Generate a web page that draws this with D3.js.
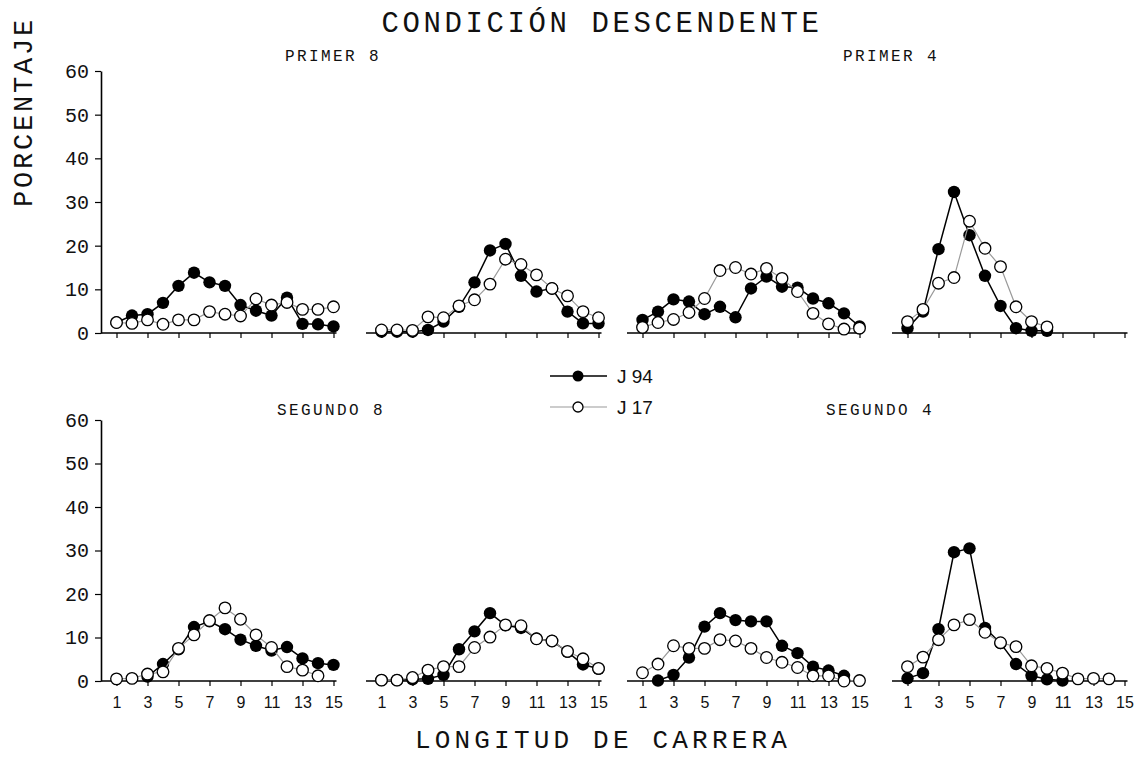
<!DOCTYPE html>
<html>
<head>
<meta charset="utf-8">
<script src="https://cdn.jsdelivr.net/npm/d3@7"></script>
<style>
  body { margin: 0; background: #fff; }
  svg { display: block; }
</style>
</head>
<body>
<svg id="chart" width="1138" height="773"></svg>
<script>
// ---------- data ----------
const xValues = [1,2,3,4,5,6,7,8,9,10,11,12,13,14,15];
const xTickValues = [1,3,5,7,9,11,13,15];
const yTickValues = [0,10,20,30,40,50,60];
const seriesNames = ["J 94", "J 17"];
const panelTitles = ["PRIMER 8", "", "", "PRIMER 4", "SEGUNDO 8", "", "", "SEGUNDO 4"];

// J 94 (filled) per panel
const j94_p1 = [2.4,4.0,4.3,6.9,10.8,13.8,11.6,10.8,6.4,5.1,4.0,8.1,2.1,2.0,1.5];
const j94_p2 = [0.3,0.3,0.3,0.7,2.6,6.0,11.6,18.9,20.4,13.1,9.5,10.2,4.9,2.2,2.2];
const j94_p3 = [3.0,4.9,7.7,7.2,4.3,6.0,3.6,10.2,12.9,10.6,10.4,7.9,6.8,4.5,1.5];
const j94_p4 = [1.1,4.9,19.2,32.3,22.4,13.1,6.2,1.1,0.5,0.5,null,null,null,null,null];
const j94_p5 = [null,null,1.0,3.9,7.3,12.4,13.7,11.9,9.5,8.1,7.0,7.8,5.2,4.1,3.7];
const j94_p6 = [0.2,0.2,0.4,0.5,1.4,7.3,11.4,15.6,12.8,12.2,9.7,9.2,6.7,3.8,2.8];
const j94_p7 = [null,0.1,1.4,5.4,12.5,15.6,14.0,13.7,13.7,8.1,6.4,3.3,2.4,1.2,null];
const j94_p8 = [0.6,1.8,11.9,29.6,30.5,12.2,8.7,3.9,1.2,0.4,0.1,null,null,null,null];

// J 17 (open) per panel
const j17_p1 = [2.4,2.2,3.0,2.0,3.0,3.0,4.9,4.3,3.9,7.8,6.4,7.0,5.4,5.4,6.0];
const j17_p2 = [0.7,0.7,0.6,3.7,3.5,6.2,7.6,11.2,16.9,15.7,13.3,10.2,8.5,4.9,3.5];
const j17_p3 = [1.3,2.4,3.1,4.7,7.9,14.3,15.0,13.5,14.8,12.5,9.5,4.5,2.1,0.9,1.1];
const j17_p4 = [2.6,5.4,11.4,12.7,25.6,19.4,15.2,6.0,2.6,1.4,null,null,null,null,null];
const j17_p5 = [0.5,0.6,1.6,2.1,7.5,10.6,13.9,16.8,14.2,10.6,7.7,3.3,2.5,1.2,null];
const j17_p6 = [0.2,0.2,0.8,2.5,3.3,3.3,7.7,10.1,12.9,12.7,9.7,9.2,6.8,5.1,2.9];
const j17_p7 = [1.9,3.9,8.1,7.5,7.5,9.5,9.2,7.5,5.4,4.3,3.1,1.2,1.2,0.0,0.1];
const j17_p8 = [3.3,5.5,9.5,12.9,14.1,11.2,8.8,7.9,3.5,2.9,1.8,0.5,0.6,0.5,null];

const j94 = [j94_p1,j94_p2,j94_p3,j94_p4,j94_p5,j94_p6,j94_p7,j94_p8];
const j17 = [j17_p1,j17_p2,j17_p3,j17_p4,j17_p5,j17_p6,j17_p7,j17_p8];

// ---------- layout ----------
const svg = d3.select("#chart");
const mono = "'Liberation Mono', 'DejaVu Sans Mono', monospace";
const sans = "'Liberation Sans', Arial, sans-serif";

const panelX = [101, 366, 627, 892];
const rowY = [{bottom: 333, top: 71}, {bottom: 681, top: 420}];
const plotW = 232.5;

const x = d3.scaleLinear().domain([0, 15]).range([0, plotW]);

const titleCenters = [333, null, null, 891, 331, null, null, 880];

for (let p = 0; p < 8; p++) {
  const row = Math.floor(p / 4), col = p % 4;
  const y = d3.scaleLinear().domain([0, 60]).range([rowY[row].bottom, rowY[row].top]);
  const g = svg.append("g").attr("transform", `translate(${panelX[col]},0)`);

  // x axis
  const xAxis = d3.axisBottom(x).tickValues(xTickValues).tickSize(5).tickSizeOuter(0).tickPadding(11)
    .tickFormat(row === 1 ? d3.format("d") : () => "");
  const xg = g.append("g").attr("transform", `translate(0,${rowY[row].bottom})`).call(xAxis);
  xg.select(".domain").attr("d", `M0,0H${plotW + 3}`).attr("stroke", "#000").attr("stroke-width", 1.6);
  xg.selectAll(".tick line").attr("stroke", "#000").attr("stroke-width", 1.2);
  xg.selectAll(".tick text").attr("font-family", sans).attr("font-size", 16).attr("fill", "#111");

  // y axis only in first column
  if (col === 0) {
    const yAxis = d3.axisLeft(y).tickValues(yTickValues).tickSize(6).tickSizeOuter(0).tickPadding(6);
    const yg = g.append("g").call(yAxis);
    yg.select(".domain").attr("stroke", "#000").attr("stroke-width", 1.6);
    yg.selectAll(".tick line").attr("stroke", "#000").attr("stroke-width", 1.2);
    yg.selectAll(".tick text").attr("font-family", mono).attr("font-size", 20).attr("fill", "#111");
  }

  const line = d3.line().defined(d => d.v != null).x(d => x(d.x)).y(d => y(d.v));
  const d94 = xValues.map((xx, i) => ({x: xx, v: j94[p][i]}));
  const d17 = xValues.map((xx, i) => ({x: xx, v: j17[p][i]}));

  g.append("path").datum(d94).attr("d", line).attr("fill", "none").attr("stroke", "#000").attr("stroke-width", 1.5);
  g.selectAll(".m94").data(d94.filter(d => d.v != null)).enter().append("circle")
    .attr("cx", d => x(d.x)).attr("cy", d => y(d.v)).attr("r", 6.2).attr("fill", "#000");

  g.append("path").datum(d17).attr("d", line).attr("fill", "none").attr("stroke", "#9a9a9a").attr("stroke-width", 1.2);
  g.selectAll(".m17").data(d17.filter(d => d.v != null)).enter().append("circle")
    .attr("cx", d => x(d.x)).attr("cy", d => y(d.v)).attr("r", 5.8).attr("fill", "#fff")
    .attr("stroke", "#000").attr("stroke-width", 1.3);

  if (panelTitles[p]) {
    svg.append("text").attr("x", titleCenters[p]).attr("y", row === 0 ? 61 : 415)
      .attr("text-anchor", "middle").attr("font-family", mono).attr("font-size", 16)
      .attr("letter-spacing", 2.4).attr("fill", "#111").text(panelTitles[p]);
  }
}

// main title
svg.append("text").attr("x", 602).attr("y", 32).attr("text-anchor", "middle")
  .attr("font-family", mono).attr("font-size", 29).attr("letter-spacing", 3.6)
  .attr("fill", "#111").text("CONDICIÓN DESCENDENTE");

// y label
svg.append("text").attr("transform", "translate(32,112) rotate(-90)").attr("text-anchor", "middle")
  .attr("font-family", mono).attr("font-size", 27).attr("letter-spacing", 2.8)
  .attr("fill", "#111").text("PORCENTAJE");

// x label
svg.append("text").attr("x", 603).attr("y", 748).attr("text-anchor", "middle")
  .attr("font-family", mono).attr("font-size", 26).attr("letter-spacing", 4.2)
  .attr("fill", "#111").text("LONGITUD DE CARRERA");

// legend
const legY = [376, 407];
const lg = svg.append("g");
seriesNames.forEach((name, i) => {
  lg.append("line").attr("x1", 550).attr("x2", 607).attr("y1", legY[i]).attr("y2", legY[i])
    .attr("stroke", i === 0 ? "#000" : "#9a9a9a").attr("stroke-width", i === 0 ? 1.5 : 1.2);
  lg.append("circle").attr("cx", 578).attr("cy", legY[i]).attr("r", i === 0 ? 5.5 : 5)
    .attr("fill", i === 0 ? "#000" : "#fff").attr("stroke", "#000").attr("stroke-width", i === 0 ? 0 : 1.3);
  lg.append("text").attr("x", 617).attr("y", legY[i] + 7).attr("font-family", sans)
    .attr("font-size", 19).attr("fill", "#111").attr("xml:space", "preserve").text(name.replace(" ", "\u00A0"));
});
</script>
</body>
</html>
